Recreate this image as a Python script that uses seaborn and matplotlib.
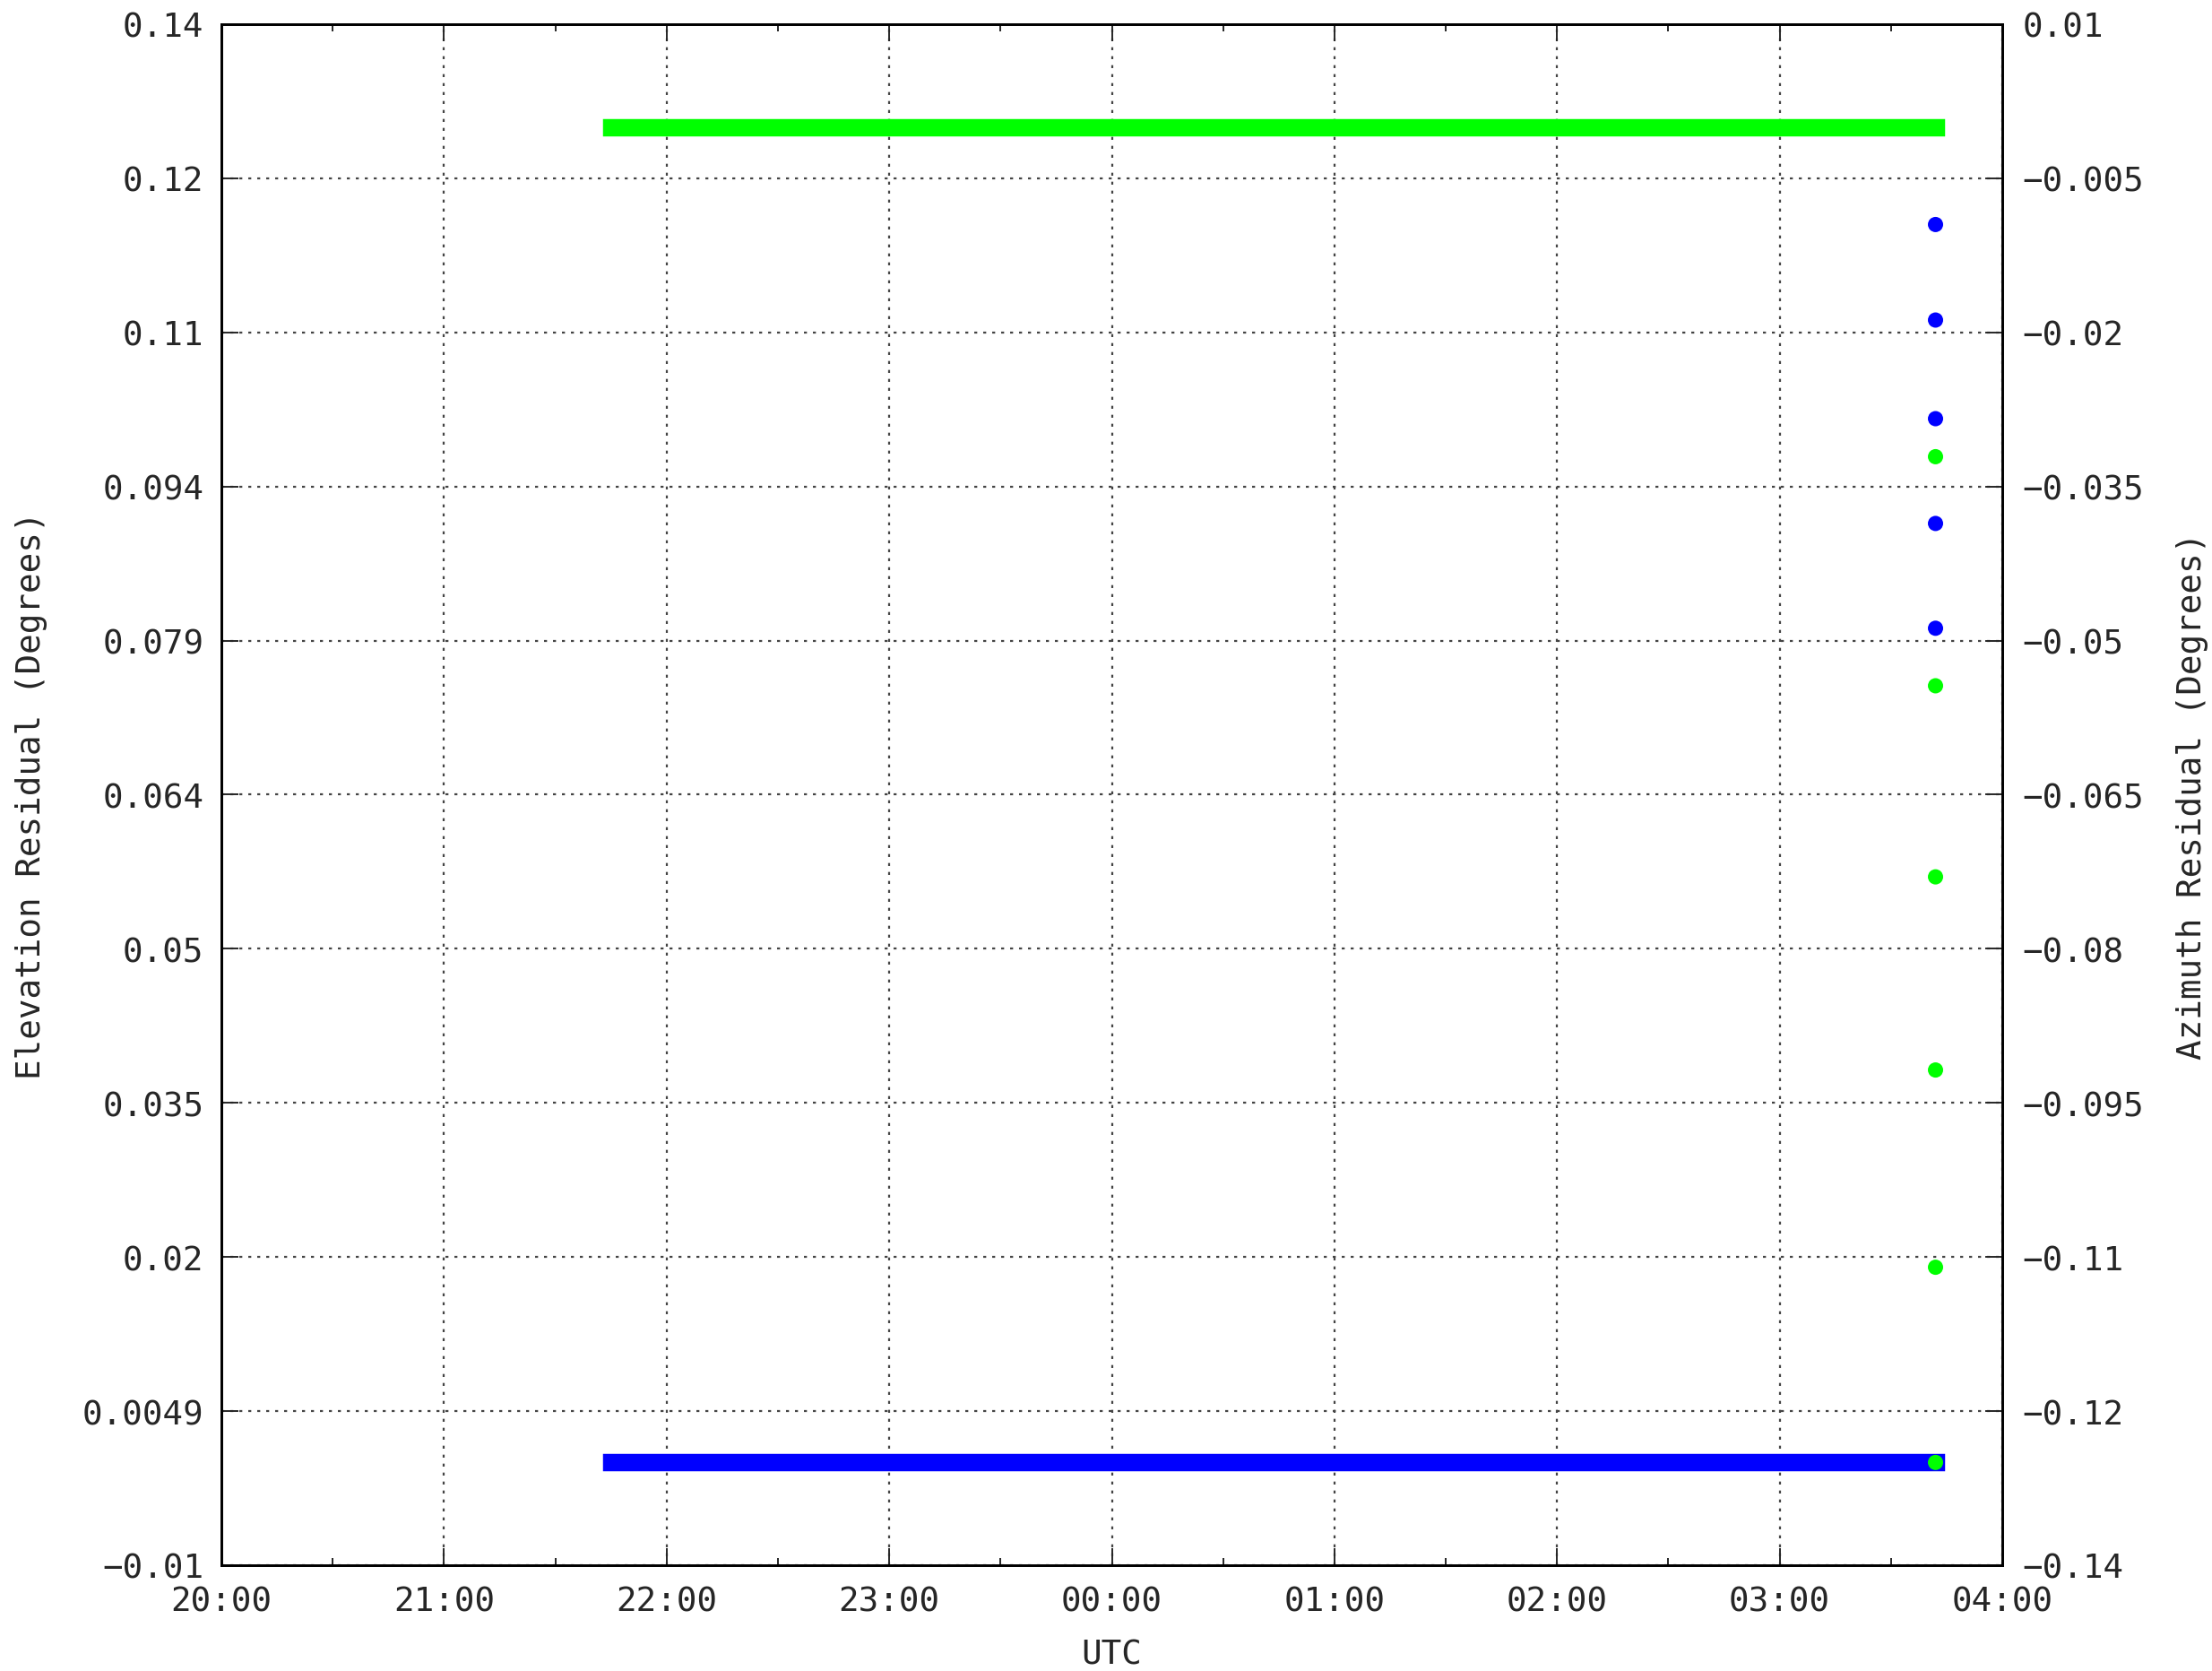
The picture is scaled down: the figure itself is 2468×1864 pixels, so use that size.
import matplotlib
matplotlib.use("Agg")
import matplotlib.pyplot as plt
from matplotlib.ticker import MultipleLocator
import seaborn as sns

# track of residuals (UTC), values in degrees
track_start = "21:45"
track_end = "03:42"
elev_track = [0.0, 0.0]
azim_track = [0.0, 0.0]

# scattered residuals at the end of the pass
end_time = "03:42"
elev_end = [0.1205, 0.1112, 0.1016, 0.0914, 0.0812]
azim_end = [-0.0321, -0.0544, -0.0730, -0.0918, -0.111, -0.130]

x_labels = ["20:00", "21:00", "22:00", "23:00", "00:00", "01:00", "02:00", "03:00", "04:00"]
elev_ticks = [-0.01, 0.005, 0.02, 0.035, 0.05, 0.065, 0.08, 0.095, 0.11, 0.125, 0.14]
elev_labels = ["\u22120.01", "0.0049", "0.02", "0.035", "0.05", "0.064", "0.079",
               "0.094", "0.11", "0.12", "0.14"]
azim_ticks = [-0.14, -0.125, -0.11, -0.095, -0.08, -0.065, -0.05, -0.035, -0.02, -0.005, 0.01]
azim_labels = ["\u22120.14", "\u22120.12", "\u22120.11", "\u22120.095", "\u22120.08", "\u22120.065",
               "\u22120.05", "\u22120.035", "\u22120.02", "\u22120.005", "0.01"]

BLUE = "#0000ff"
GREEN = "#00ff00"


def to_hours(s):
    """hours since 20:00 UTC"""
    h, m = map(int, s.split(":"))
    return (h - 20) % 24 + m / 60.0


sns.set_style("ticks")
plt.rcParams["font.family"] = ["DejaVu Sans Mono"]
plt.rcParams["font.size"] = 27

fig = plt.figure(figsize=(24.68, 18.65), dpi=100)
ax = fig.add_axes([0.1001, 0.0633, 0.8051, 0.9217])
ax2 = ax.twinx()

track_x = [to_hours(track_start), to_hours(track_end)]

sns.lineplot(x=track_x, y=elev_track, ax=ax, color=BLUE, linewidth=14,
             solid_capstyle="projecting", zorder=3)
sns.scatterplot(x=[to_hours(end_time)] * len(elev_end), y=elev_end, ax=ax,
                color=BLUE, s=150, marker="o", edgecolor="none", zorder=4)

sns.lineplot(x=track_x, y=azim_track, ax=ax2, color=GREEN, linewidth=14,
             solid_capstyle="projecting", zorder=3)
sns.scatterplot(x=[to_hours(end_time)] * len(azim_end), y=azim_end, ax=ax2,
                color=GREEN, s=150, marker="o", edgecolor="none", zorder=4)

ax.set_xlim(0, 8)
ax.set_ylim(-0.01, 0.14)
ax2.set_ylim(-0.14, 0.01)

ax.set_xticks(range(len(x_labels)))
ax.set_xticklabels(x_labels)
ax.xaxis.set_minor_locator(MultipleLocator(0.5))
ax.set_yticks(elev_ticks)
ax.set_yticklabels(elev_labels)
ax2.set_yticks(azim_ticks)
ax2.set_yticklabels(azim_labels)

ax.tick_params(axis="x", which="major", direction="in", length=13.7, width=1.4,
               top=True, bottom=True, pad=16, labelsize=27)
ax.tick_params(axis="x", which="minor", direction="in", length=5.8, width=1.4,
               top=True, bottom=True)
ax.tick_params(axis="y", which="major", direction="in", length=13.7, width=1.4,
               left=True, right=False, pad=14, labelsize=27)
ax2.tick_params(axis="y", which="major", direction="in", length=13.7, width=1.4,
                right=True, pad=16, labelsize=27)

ax.grid(True, which="major", color="#444444", linestyle=(0, (1.5, 3)), linewidth=1.6)
ax.set_axisbelow(True)

for a in (ax, ax2):
    for sp in a.spines.values():
        sp.set_visible(True)
        sp.set_linewidth(2)
        sp.set_color("black")

ax.set_xlabel("")
ax.set_ylabel("Elevation Residual (Degrees)", fontsize=27, va="center")
ax.yaxis.set_label_coords(-0.1067, 0.5)
ax2.set_ylabel("Azimuth Residual (Degrees)", fontsize=27, va="center", rotation=90)
ax2.yaxis.set_label_coords(1.1067, 0.5)
fig.text(0.5025, 0.0097, "UTC", ha="center", va="center", fontsize=27)

fig.savefig("out.png", dpi=100)
